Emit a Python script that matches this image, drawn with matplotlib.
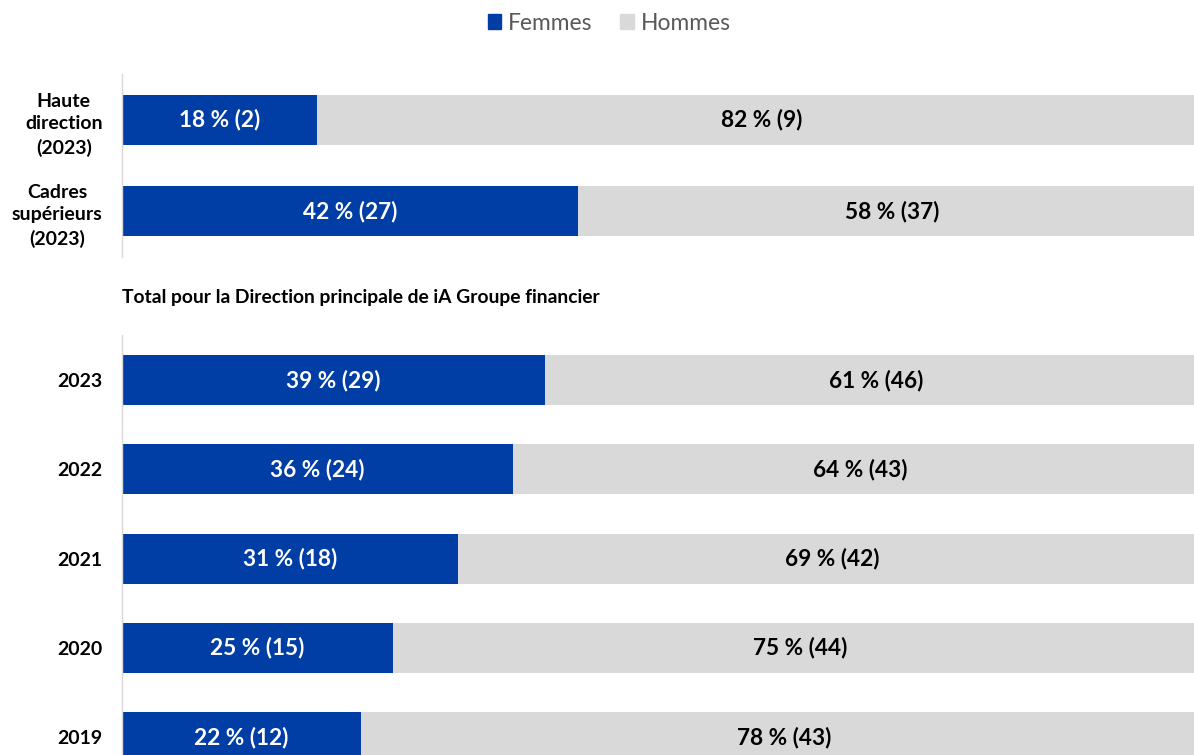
import matplotlib.pyplot as plt

plt.rcParams['font.family'] = ['Lato', 'DejaVu Sans']

BLUE = '#003DA5'
GREY = '#D9D9D9'

# top group
top_labels = ['Haute\ndirection\n(2023)', 'Cadres\nsupérieurs\n(2023)']
top_women_pct = [18, 42]
top_women_n = [2, 27]
top_men_pct = [82, 58]
top_men_n = [9, 37]

# bottom group
years = ['2023', '2022', '2021', '2020', '2019']
women_pct = [39, 36, 31, 25, 22]
women_n = [29, 24, 18, 15, 12]
men_pct = [61, 64, 69, 75, 78]
men_n = [46, 43, 42, 44, 43]

subtitle = 'Total pour la Direction principale de iA Groupe financier'


def draw(ax, labels, wp, wn, mp, mn, height):
    pos = list(range(len(labels)))
    ax.barh(pos, wp, height=height, color=BLUE)
    ax.barh(pos, mp, left=wp, height=height, color=GREY)
    for i in pos:
        ax.text(wp[i] / 2, i, f'{wp[i]} % ({wn[i]})', ha='center', va='center',
                color='white', fontsize=16.3, fontweight='bold')
        ax.text(wp[i] + mp[i] / 2, i, f'{mp[i]} % ({mn[i]})', ha='center', va='center',
                color='black', fontsize=16.3, fontweight='bold')
    ax.set_xlim(0, 100)
    ax.set_yticks(pos)
    ax.set_yticklabels(labels, fontsize=14, fontweight='bold', linespacing=1.42)
    for lbl in ax.get_yticklabels():
        lbl.set_multialignment('center')
    ax.tick_params(axis='y', length=0, pad=14)
    ax.set_xticks([])
    for s in ['top', 'right', 'bottom']:
        ax.spines[s].set_visible(False)
    ax.spines['left'].set_color(GREY)
    ax.spines['left'].set_linewidth(1)


fig = plt.figure(figsize=(11.94, 7.55), dpi=100)
W, H = 1194, 755
left = 122 / W
width = (1207 - 122) / W

ax1 = fig.add_axes([left, 1 - 257 / H, width, 183 / H])
draw(ax1, top_labels, top_women_pct, top_women_n, top_men_pct, top_men_n, 0.55)
ax1.set_ylim(1.505, -0.505)

ax2 = fig.add_axes([left, 0, width, 1 - 335 / H])
draw(ax2, years, women_pct, women_n, men_pct, men_n, 0.56)
ax2.set_ylim(4.2, -0.504)

fig.text(left, 1 - 298 / H, subtitle, ha='left', va='center',
         fontsize=13.9, fontweight='bold', color='black')

# legend
h1 = plt.Rectangle((0, 0), 1, 1, color=BLUE)
h2 = plt.Rectangle((0, 0), 1, 1, color=GREY)
fig.legend([h1, h2], ['Femmes', 'Hommes'], loc='center', bbox_to_anchor=(609 / W, 1 - 23 / H),
           ncol=2, frameon=False, fontsize=16.4, labelcolor='#595959',
           handlelength=0.6, handleheight=0.6, handletextpad=0.3, columnspacing=1.2)

fig.savefig('out.png', dpi=100)
